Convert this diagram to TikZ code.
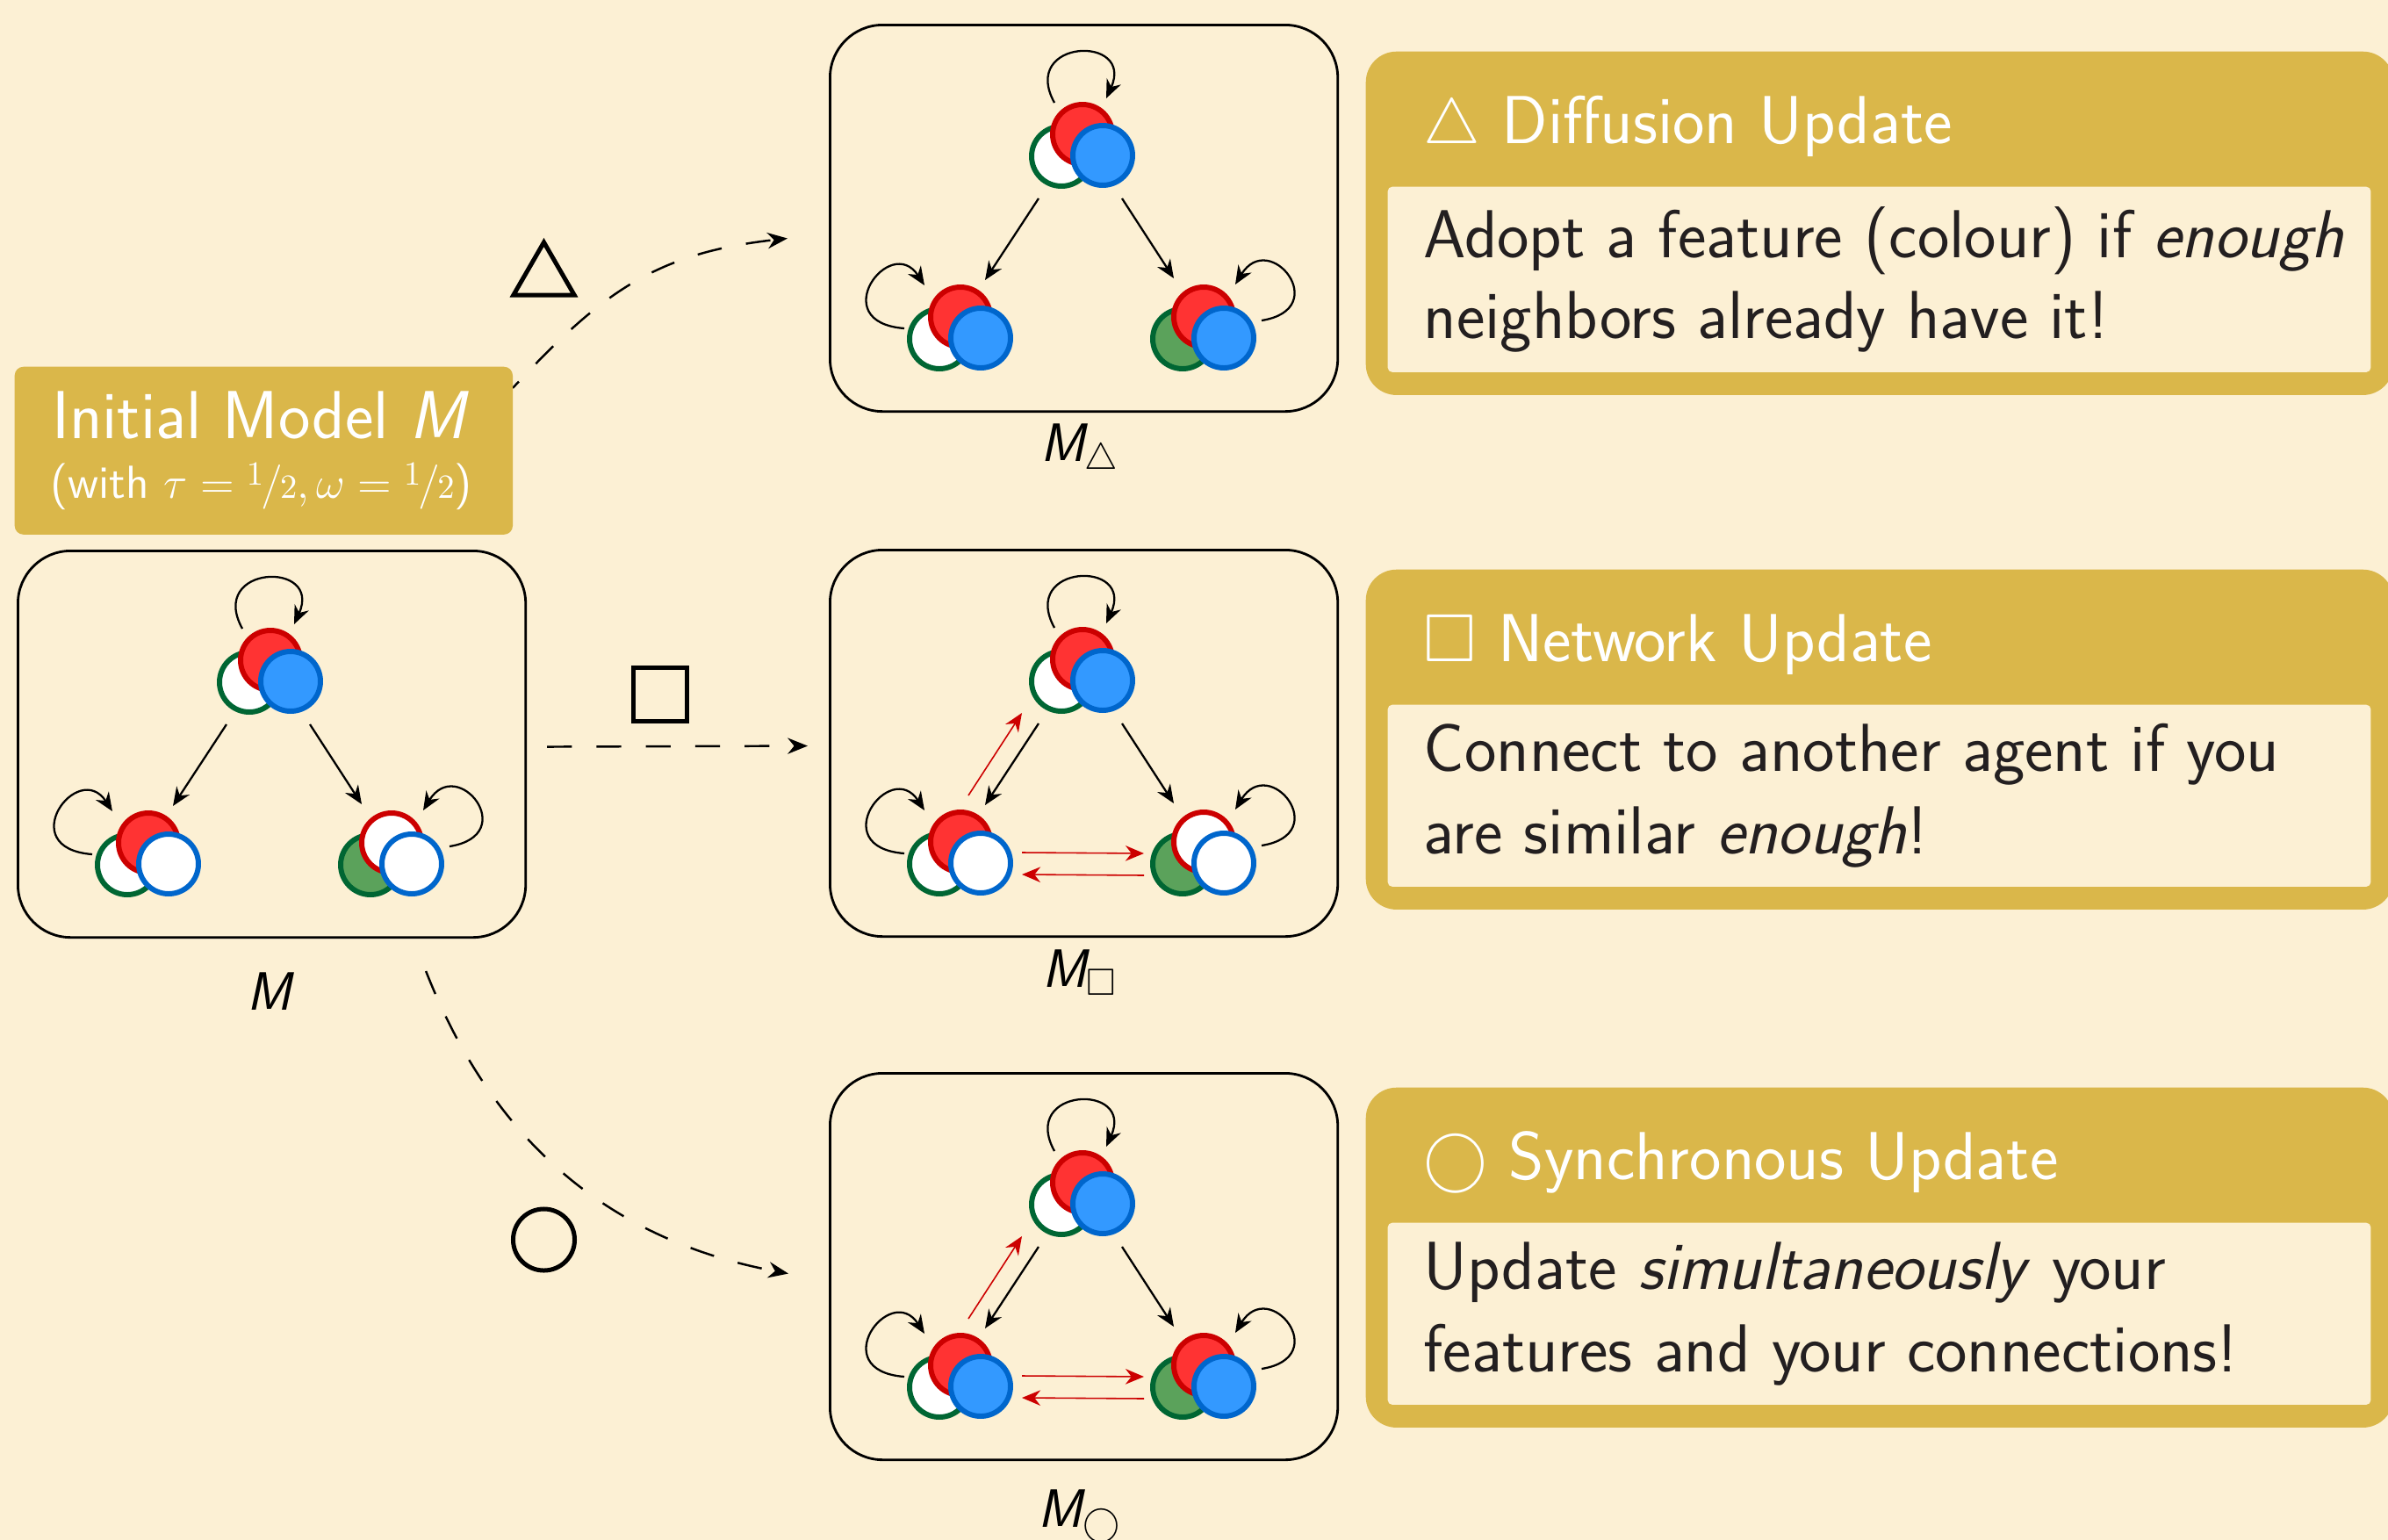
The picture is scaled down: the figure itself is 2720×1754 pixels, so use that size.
\documentclass[tikz,border=0pt]{standalone}
\usepackage{amssymb}
\renewcommand\familydefault{\sfdefault}
\usetikzlibrary{arrows.meta,calc,shapes.geometric}
\definecolor{bgc}{RGB}{252,240,212}
\definecolor{goldc}{RGB}{218,183,74}
\definecolor{inkc}{RGB}{35,31,32}
\definecolor{rfill}{RGB}{255,51,51}
\definecolor{rdraw}{RGB}{204,0,0}
\definecolor{bfill}{RGB}{51,153,255}
\definecolor{bdraw}{RGB}{0,102,204}
\definecolor{gfill}{RGB}{91,162,91}
\definecolor{gdraw}{RGB}{0,102,51}
\newcommand\hdfont{\fontsize{22}{26}\selectfont}
\newcommand\ttlfont{\fontsize{22}{26}\selectfont}
\newcommand\subfont{\fontsize{15}{18}\selectfont}
\newcommand\lblfont{\fontsize{17.5}{20}\selectfont}
\newcommand\halfv{\mathord{\raisebox{0.6ex}{$\scriptstyle 1$}\mkern-1mu/\mkern-1mu\scriptstyle 2}}
\tikzset{
  modelframe/.style={draw=black, line width=0.8pt, rounded corners=0.6cm,
    minimum width=5.78cm, minimum height=4.4cm, inner sep=0pt, anchor=north west},
  hub/.style={circle, minimum size=1.4cm, inner sep=0pt},
  agent/.style={line width=1.7pt},
  gF/.style={fill=gfill, draw=gdraw}, gE/.style={fill=white, draw=gdraw},
  rF/.style={fill=rfill, draw=rdraw}, rE/.style={fill=white, draw=rdraw},
  bF/.style={fill=bfill, draw=bdraw}, bE/.style={fill=white, draw=bdraw},
  blink/.style={draw=black, line width=0.65pt, -{Stealth[length=6pt,width=5pt]}},
  rlink/.style={draw=rdraw, line width=0.45pt, -{Stealth[length=6pt,width=5pt]}},
  flowarrow/.style={line width=0.7pt, dash pattern=on 8pt off 8pt, -{Stealth[length=6.5pt,width=5.2pt]}},
  shapelabel/.style={draw=black, line width=1.42pt, inner sep=0pt},
  goldbox/.style={fill=goldc, rounded corners=0.35cm, inner sep=0pt, anchor=north west},
  innerbox/.style={fill=bgc, rounded corners=0.05cm, inner sep=0pt, anchor=north west},
  headtext/.style={text=white, font=\hdfont, anchor=base west, inner sep=0pt},
  bodytext/.style={text=inkc, font=\hdfont, anchor=base west, inner sep=0pt},
}
\newcommand\agentcluster[6]{%
  \path[agent,#4] (#2-24,#3+25) circle (34);
  \path[agent,#5] (#2,#3) circle (34);
  \path[agent,#6] (#2+23,#3+24) circle (34);
  \node[hub] (#1) at (#2,#3+16) {};
}
\newcommand\modelpanel[6]{%
  \node[modelframe] (#1) at (#2,#3) {};
  \agentcluster{#1t}{#2+289}{#3+126}{gE}{rF}{bF}
  \agentcluster{#1l}{#2+150}{#3+334}{gE}{rF}{#4}
  \agentcluster{#1r}{#2+427}{#3+334}{gF}{#5}{#6}
  \draw[blink] ($(#1t)+(-50,57)$) -- ($(#1l)+(28,-58)$);
  \draw[blink] ($(#1t)+(45,57)$) -- ($(#1r)+(-34,-60)$);
  \draw[blink] ($(#1t)+(-32,-52)$) .. controls ($(#1t)+(-72,-125)$) and ($(#1t)+(60,-130)$) .. ($(#1t)+(27,-57)$);
  \draw[blink] ($(#1l)+(-64,-3)$) .. controls ($(#1l)+(-155,-10)$) and ($(#1l)+(-80,-112)$) .. ($(#1l)+(-41,-52)$);
  \draw[blink] ($(#1r)+(66,-12)$) .. controls ($(#1r)+(148,-25)$) and ($(#1r)+(75,-117)$) .. ($(#1r)+(36,-53)$);
}
\newcommand\rewire[1]{%
  \draw[rlink] ($(#1l)+(9,-69)$) -- ($(#1t)+(-69,45)$);
  \draw[rlink] ($(#1l)+(70,-4)$) -- ($(#1r)+(-68,-3)$);
  \draw[rlink] ($(#1r)+(-68,22)$) -- ($(#1l)+(70,21)$);
}
\begin{document}
\begin{tikzpicture}[x=0.01cm,y=-0.01cm]
\useasboundingbox (0,0) rectangle (2720,1754);
\fill[bgc] (0,0) rectangle (2720,1754);

% model panels
\modelpanel{P0}{19}{626}{bE}{rE}{bE}
\modelpanel{P1}{944}{27}{bF}{rF}{bF}
\modelpanel{P2}{944}{625}{bE}{rE}{bE}
\modelpanel{P3}{944}{1221}{bF}{rF}{bF}
\rewire{P2}
\rewire{P3}

% transition arrows
\coordinate (a1s) at (584,442);
\draw[flowarrow, dash phase=5.1pt] (a1s) .. controls (686,332) and (748,288) .. ($(P1.west)+(-47,23)$);
\draw[flowarrow] ($(P0.east)+(23,3)$) -- ($(P2.west)+(-24,3)$);
\draw[flowarrow] ($(P0.south east)+(-115,37)$) .. controls (564,1307) and (701,1414) .. ($(P3.west)+(-46,8)$);

\node[shapelabel, regular polygon, regular polygon sides=3, minimum size=0.8cm] (sTri) at (619.5,316) {};
\node[shapelabel, rectangle, minimum size=0.61cm] (sSq) at (752,791) {};
\node[shapelabel, circle, minimum size=0.70cm] (sCirc) at (619.5,1412) {};

% title box
\node[goldbox, rounded corners=0.1cm, minimum width=5.67cm, minimum height=1.91cm] (T) at (16,417) {};
\node[text=white, font=\ttlfont, anchor=base, inner sep=0pt] (T1) at (297,499) {Initial Model \textit{M}};
\node[text=white, font=\subfont, anchor=base, inner sep=0pt] (T2) at (297.5,567) {(with $\tau=\halfv,\omega=\halfv$)};

% panel labels
\node[font=\lblfont, anchor=base, inner sep=0pt] (L0) at (307,1150) {$\mbox{\sffamily\itshape M}$};
\node[font=\lblfont, anchor=base, inner sep=0pt] (L1) at (1230,525) {$\mbox{\sffamily\itshape M}_{\triangle}$};
\node[font=\lblfont, anchor=base, inner sep=0pt] (L2) at (1230,1124) {$\mbox{\sffamily\itshape M}_{\square}$};
\node[font=\lblfont, anchor=base, inner sep=0pt] (L3) at (1230,1739) {$\mbox{\sffamily\itshape M}_{\bigcirc}$};

% rule boxes
\node[goldbox, minimum width=11.70cm, minimum height=3.91cm] (D) at (1555,58) {};
\node[innerbox, minimum width=11.19cm, minimum height=2.11cm] (Db) at (1580,212) {};
\node[headtext] (Dh) at (1621,163) {$\triangle$ Diffusion Update};
\node[bodytext] (D1) at (1621,293) {Adopt a feature (colour) if \textit{enough}};
\node[bodytext] (D2) at (1621,385) {neighbors already have it!};

\node[goldbox, minimum width=11.70cm, minimum height=3.87cm] (N) at (1555,648) {};
\node[innerbox, minimum width=11.19cm, minimum height=2.07cm] (Nb) at (1580,802) {};
\node[headtext] (Nh) at (1621,753) {$\square$ Network Update};
\node[bodytext] (N1) at (1621,878) {Connect to another agent if you};
\node[bodytext] (N2) at (1621,972) {are similar \textit{enough}!};

\node[goldbox, minimum width=11.70cm, minimum height=3.87cm] (S) at (1555,1238) {};
\node[innerbox, minimum width=11.19cm, minimum height=2.07cm] (Sb) at (1580,1392) {};
\node[headtext] (Sh) at (1621,1343) {$\bigcirc$ Synchronous Update};
\node[bodytext] (S1) at (1621,1468) {Update \textit{simultaneously} your};
\node[bodytext] (S2) at (1621,1562) {features and your connections!};
\end{tikzpicture}
\end{document}
